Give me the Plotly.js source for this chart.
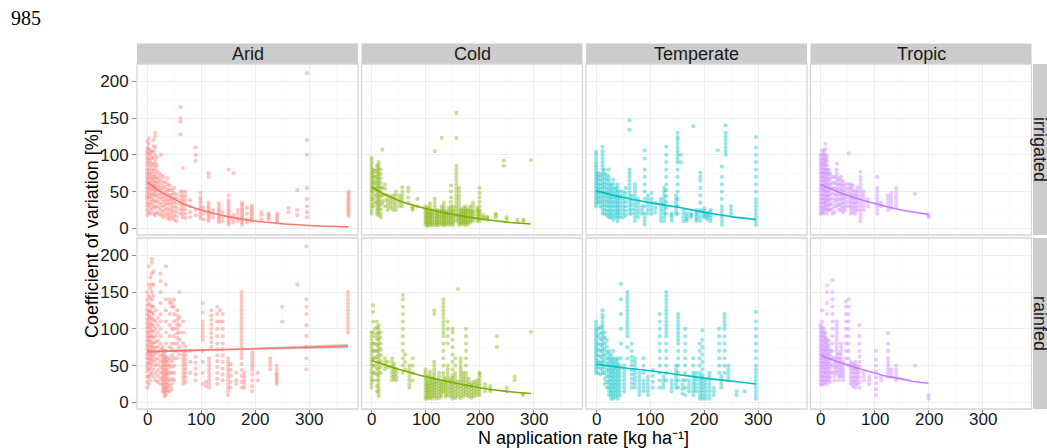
<!DOCTYPE html>
<html><head><meta charset="utf-8">
<script src="https://cdn.plot.ly/plotly-3.0.1.min.js"></script>
<style>html,body{margin:0;padding:0;background:#fff}#chart{width:1047px;height:448px}</style>
</head><body><div id="chart"></div>
<script>
// ---------------- DATA ----------------
const climates = ["Arid", "Cold", "Temperate", "Tropic"];
const systems = ["irrigated", "rainfed"];
const xTickVals = [0, 100, 200, 300];
const yTickVals = [0, 50, 100, 150, 200];
const xTitle = "N application rate [kg ha\u207B\u00B9]";
const yTitle = "Coefficient of variation [%]";
const pageNumber = "985";

// points: [N rate, [CV values ...]]
const aridIrrigatedPts = [
 [0,[18,25,30,35,40,45,50,55,60,65,70,75,80,85,90,95,100,105,110,118]],
 [3,[22,32,42,48,55,62,68,74,80,88,95,102,108,115,122]],
 [6,[20,28,36,44,52,58,64,70,76,84,92,100,106]],
 [9,[25,33,40,47,54,60,67,73,80,88,96,104]],
 [12,[20,30,38,46,52,58,64,70,78,86,95,105,112,120]],
 [15,[18,28,36,44,50,56,62,68,74,82,90,100,110,125,130]],
 [18,[22,30,38,45,52,58,64,70,78,86,96]],
 [22,[20,28,35,42,48,55,62,68,75]],
 [26,[18,25,32,40,46,52,58,65,72,100]],
 [30,[15,22,30,36,42,48,55,62,70]],
 [34,[18,25,32,38,44,50,56,63]],
 [38,[14,20,27,34,40,46,52,60,68]],
 [42,[12,18,25,32,38,45,52,58]],
 [46,[15,22,28,34,40,46,52]],
 [50,[12,18,24,30,36,42,48,55]],
 [55,[10,16,22,28,34,40,46]],
 [62,[20,26,32,38,44,50,128,145,150,165]],
 [66,[15,20,25,30,35,40,45,50,82]],
 [71,[14,20,26,32,38,44,50]],
 [80,[15,22,30,38]],
 [90,[18,25,92,100,110]],
 [99,[14,18,22,26,30,34,38,42,48]],
 [105,[12,20,28]],
 [114,[10,13,16,19,22,25,28,31,35,70,75]],
 [122,[15,20,25]],
 [133,[8,11,14,17,20,23,26,30,34]],
 [140,[10,15,22]],
 [151,[5,8,11,14,17,20,23,26,30,34,38,45,80]],
 [160,[8,12,18,75]],
 [168,[10,14,20,25]],
 [176,[5,8,11,14,17,20,23,26,29,32,35]],
 [185,[8,12,20,28]],
 [194,[10,13,16,19,22,25,28,31]],
 [212,[12,18,22]],
 [225,[12,15,18,20]],
 [241,[8,11,14,17,20]],
 [262,[22,28]],
 [278,[18,25,52]],
 [296,[15,22,30,40,55,100,120,211]],
 [373,[17,20,23,26,29,32,35,38,41,44,47,50]]
];
const aridRainfedPts = [
 [0,[20,28,35,42,48,54,60,66,72,78,84,90,96,102,108,114,120,126,132,140,150]],
 [3,[25,35,45,52,58,64,70,76,82,88,94,100,106,112,118,124,135,145,160,185]],
 [6,[30,38,46,54,60,66,72,78,84,90,96,102,108,116,124,132,142,155,170]],
 [9,[40,50,58,64,70,76,82,90,98,106,114,122,130,140,150,160,175,190,195]],
 [12,[35,45,55,62,68,74,80,88,96,104,112,120,130,145,160,178]],
 [16,[30,40,50,58,66,74,82,90,100,110,125]],
 [20,[28,36,44,52,60,68,76,84,95,105,115]],
 [25,[25,32,40,48,56,64,72,80,90,100,110,120,135,150,165,175]],
 [29,[15,20,25,30,35,40,45,50,55,60,65,70,75]],
 [32,[8,12,16,20,25,30,35,40,45,50,55,60,65,70]],
 [35,[10,15,20,26,32,38,44,50,56,62,70,80,95,110,125,140,160,185]],
 [38,[15,20,25,30,35,40,45,50,55,60]],
 [42,[15,22,30,40,50,60,75,90,105,120,135,140]],
 [46,[18,25,32,40,48,56,64,72,80,100,130,135]],
 [50,[30,40,50,60,70,80,90,100,110,120,130,140]],
 [56,[60,70,80,88,94,100,106,112,118,125]],
 [60,[65,75,85,95,105,115,150]],
 [67,[25,30,35,40,45,50,55,60,65,70,80,95,110]],
 [71,[28,34,40,46,52,58,64,70,76]],
 [80,[40,55,70]],
 [90,[30,38,46,54,62]],
 [103,[25,40,55,70,85,90,95,100,105,110,122,135]],
 [109,[22,28]],
 [115,[20,25,30,35,40,45,50,55,60]],
 [119,[75,82,88,94,100,106,112,118,125]],
 [130,[25,32,40,48,56,64,72,80,90,100,110,120,130]],
 [135,[110,125]],
 [140,[30,38,46,55,64,72,80,90,100,110,120]],
 [150,[10,15,20,25,30,35,40,45,50,55,60]],
 [155,[20,28,36,44,52]],
 [165,[25,30,40]],
 [175,[20,28,36,44,52,60,65,70,75,80,85,90,95,100,105,110,115,120,125,130,135,140,145,150]],
 [180,[20,25,30,35,40]],
 [195,[15,22,30,38,44,48,52,56,60,64,68]],
 [205,[30,40]],
 [228,[45,50,55,60]],
 [240,[25,28,31,34,37,40,45,50]],
 [250,[110,130]],
 [278,[160]],
 [295,[45,60,75,90,105,120,130,140,212]],
 [372,[95,100,105,110,115,120,125,130,135,140,145,150]]
];
const coldIrrigatedPts = [
 [0,[20,24,28,32,36,40,44,48,52,56,60,64,68,72,76,80,84,88,92,96]],
 [3,[30,40,50,55,60,65,70,75,80]],
 [6,[35,45,55,62,70,78]],
 [10,[20,25,30,35,40,45,50,55,60,65,70,75,80,85]],
 [13,[18,22,26,30,34,38,42,46,50,54,58,62,66,70,74,78,82,86,90]],
 [17,[15,20,26,32,38,44,50,56,62,68,74,80]],
 [20,[35,45,55,107]],
 [25,[30,38,46,54,60]],
 [30,[25,30,35,40,45]],
 [35,[28,33,38,43]],
 [40,[25,30,35,40,45]],
 [45,[25,30,35,40,45,50]],
 [52,[30,35,40,45]],
 [57,[30,35,40,45,50,56]],
 [68,[35,42,50,55]],
 [76,[25,28,30]],
 [85,[30,40]],
 [100,[5,8,11,14,17,20,23,26,30]],
 [104,[3,6,9,12,15,18,21,24,28]],
 [108,[5,8,11,14,17,20,23,26,30,34]],
 [112,[4,7,10,13,16,19,22,25]],
 [117,[5,9,13,17,21,25,30,35,40,105]],
 [121,[4,7,10,13,16,19,22,25]],
 [125,[5,8,11,14,17,20,24]],
 [130,[5,8,11,14,17,20,23,26,30,123]],
 [134,[4,7,10,13,16,19,22,26,30,35]],
 [138,[5,8,11,14,17,20,23]],
 [143,[5,8,11,14,17,20,24,28]],
 [147,[5,9,13,17,21,25,30,36,42,50,58]],
 [151,[5,8,11,14,17,20,23,26,30]],
 [157,[10,14,18,22,26,30,35,40,45,50,55,60,65,70,75,80,85,123,157]],
 [162,[5,8,11,14,17,20,25,30,35,40,45,50,55]],
 [166,[5,8,11,14,17,20,23,26]],
 [170,[6,9,12,15,18,21,24,28]],
 [174,[5,8,11,14,17,20,23,26,30]],
 [178,[5,8,11,14,17,20,23,26]],
 [183,[8,11,14,17,20,23,26,30]],
 [188,[10,13,16,19,22,25,30,35]],
 [196,[10,13,16,19,22,25,28]],
 [200,[10,13,16,19,22,25,30,36,42,48,55]],
 [207,[12,15,18]],
 [214,[12,14,16]],
 [230,[15,18,20]],
 [245,[85,92]],
 [250,[12,15]],
 [270,[8,12]],
 [281,[10,12]],
 [295,[93]]
];
const coldRainfedPts = [
 [0,[20,25,30,35,40,45,50,55,60,65,70,75,80,85,90,95]],
 [3,[30,40,50,60,70,80,95,110,123,132]],
 [6,[40,50,60,70,80,90,100]],
 [10,[15,22,30,38,46,54,62,70,78,86,94,102,110]],
 [13,[8,12,16,20,25,30,35,40,45,50,55,60,65,70,75,80,85,90,95,100,105]],
 [17,[40,48,56,64,72,80,88,95]],
 [25,[45,50,55,60]],
 [30,[48,55]],
 [38,[30,35,40,45,50,55,60]],
 [42,[32,37,42,47,52]],
 [46,[30,35,40,45]],
 [58,[40,50,60,70,80,90,100,110,120,130,140,146]],
 [62,[45,55,65]],
 [70,[20,25,30,35,40,45,50]],
 [76,[30,40,50,60]],
 [100,[5,9,13,17,21,25,29,33,37,41,45]],
 [104,[5,8,11,14,17,20,23,26,30,35]],
 [108,[6,10,14,18,22,26,30,34,38,42]],
 [112,[5,9,13,17,21,25,29,33]],
 [116,[8,12,16,20,24,28,32,36,40,45,50,55,120,125]],
 [120,[5,9,13,17,21,25,29]],
 [125,[6,10,14,18,22,26,30,35,40]],
 [129,[8,12,16,20,24,28]],
 [133,[15,20,25,30,35,40,50,60,70,80,90,95,100,105,110,115,120,125,130,135,140]],
 [137,[8,12,16,20,24,28,32]],
 [141,[10,15,20,25,30,35,40,45,50,80,90,100,110]],
 [146,[8,12,16,20,24,28,32]],
 [150,[5,9,13,17,21,25,29,33,37,45,55,65,75,85,95,100]],
 [155,[6,10,14,18,22,26,30,35,40,50,60]],
 [160,[8,12,16,20,24,28,154]],
 [165,[6,10,14,18,22,26,30,34,38,42,46,50,55,60]],
 [170,[8,12,16,20,24,28,32,36,40]],
 [175,[10,14,18,22,26,30,35,40,50,60,70,80,90,100]],
 [180,[8,12,16,20,24,28,32]],
 [185,[6,10,14,18,22,26]],
 [190,[8,12,16,20,24,28]],
 [195,[10,14,18,22,26,30]],
 [200,[10,14,18,22,26,30,34,38,40]],
 [210,[15,20,25]],
 [220,[15,18,22]],
 [232,[75,90]],
 [250,[15,20]],
 [265,[30,35]],
 [280,[10,12]],
 [295,[96]]
];
const temperateIrrigatedPts = [
 [0,[30,34,38,42,46,50,54,58,62,66,70,74,78,82,86,90,95,100,104]],
 [4,[35,40,45,50,55,60,65,70,75]],
 [8,[30,36,42,48,54,60,66,72]],
 [12,[20,25,30,35,40,45,50,55,60,65,70,75,80,85,90,95,100,105,111]],
 [16,[20,26,32,38,44,50,56,62,68,74,80]],
 [20,[18,24,30,36,42,48,54,60,66,72]],
 [24,[15,20,25,30,35,40,45,50,55,60,65,70,80]],
 [28,[15,20,25,30,35,40,45,50,55,60]],
 [32,[12,18,24,30,36,42,48,54,60,66]],
 [36,[15,20,25,30,35,40,45,50,55]],
 [40,[10,15,20,25,30,35,40,45,50,55,60]],
 [44,[15,20,25,30,35,40,45,50]],
 [50,[15,20,25,30,35,40,45,50]],
 [55,[18,24,30,36,42,48,55]],
 [62,[20,25,30,35,40,45,50,55,60,65,70,75,80,134,147]],
 [66,[20,26,32,38,44]],
 [72,[10,15,20,25,30,35,40,45,50,55,60]],
 [78,[15,20,25,30,35,40]],
 [85,[20,25,30]],
 [90,[5,10,15,20,30,40,50,60,70,80,95,106]],
 [96,[20,25,30,35,40,45]],
 [103,[20,25,30,35,40,48]],
 [110,[22,28,34]],
 [120,[10,15,20,25,30,35,40]],
 [126,[10,15,20,25,30,35,40,45,50,55]],
 [130,[20,28,36,44,52,60,70,80,90,100,111]],
 [140,[10,14,18,20]],
 [148,[20,25,30,35,40,45]],
 [151,[20,30,40,50,60,70,80,90,95,100,105,110,115,120,124,130]],
 [157,[90,100]],
 [162,[10,15,20,25]],
 [168,[10,13,16,20]],
 [176,[15,18,20]],
 [180,[139]],
 [186,[10,13,16,19,22,25]],
 [193,[10,15,20,25,35,45,55,65,70,76]],
 [200,[15,18,21,24,27]],
 [206,[12,15,18,21]],
 [212,[10,14,18,22,25]],
 [225,[106]],
 [233,[5,10,15,20,25,30,40,50,60,70,84]],
 [240,[100,105,110,115,120,125,130,140]],
 [250,[20,25,30]],
 [296,[5,10,15,20,25,30,35,40,50,60,70,80,90,100,110,124]]
];
const temperateRainfedPts = [
 [0,[40,44,48,52,56,60,64,68,72,76,80,84,88,92,96,100,105,110]],
 [4,[40,48,56,64,72,80,90,100]],
 [8,[38,46,54,62,70,78,86,94,102]],
 [12,[40,45,50,55,60,65,70,75,80,85,90,95,100,105,110,115,119,125]],
 [16,[25,32,40,48,56,64,72,80,88,95]],
 [20,[20,28,36,44,52,60,68,76,84]],
 [24,[10,15,20,25,30,35,40,45,50,55,60,65,70]],
 [28,[5,10,15,20,25,30,35,40,45,50,55,60,65]],
 [32,[5,10,15,20,25,30,35,40,45,50,55,60,70]],
 [36,[8,13,18,23,28,33,38,43,48,53,58]],
 [40,[5,10,15,20,25,30,35,40,45,50,55,60]],
 [44,[10,15,20,25,30,35,40,45,50]],
 [46,[60,80,100,120,140,161]],
 [52,[15,20,25,30,35,40,45,50]],
 [58,[60,75,90,95,100,105,110,115,120,125,130,135,140,145,150]],
 [66,[20,26,32,38,44,50,56,62,70,80]],
 [72,[20,25,30,35,40,45,50,55,60]],
 [80,[10,15,20,25,30,35,40]],
 [88,[15,20,25,30,40,50,60]],
 [96,[10,15,20,25,30,35]],
 [105,[20,28,36,44]],
 [118,[20,30,40,50,60,70,80,90,100,110,120]],
 [125,[20,25,30,35]],
 [130,[30,40,50,60,70,80,90,95,100,105,110,115,120,125,130,135,140,145,150]],
 [140,[15,20,25,30]],
 [148,[20,25,30,35,40,45,50]],
 [152,[20,30,40,50,60,70,80,85,90,95,100,105,110,115,120]],
 [160,[12,18,24,30]],
 [165,[10,20,30,40,50,60,70,80,90,100]],
 [172,[15,20,25,30]],
 [180,[10,15,20,25,30,35,40,50,60]],
 [185,[15,20,25,30,35,40]],
 [192,[5,10,15,20,25,30,35,40,50,60,70,80]],
 [197,[5,9,13,17,21,25,29,33,37,45,55,65,75,85,98]],
 [203,[5,10,15,20,25,30]],
 [210,[5,10,15,20,25,30,35,40]],
 [218,[10,15,20]],
 [228,[40,50,60,70,80,90,100]],
 [232,[20,25,30,35]],
 [238,[40,50,60,70,80,90,100,105,110,115,120]],
 [245,[30,35,40,45,50]],
 [260,[10,15]],
 [275,[15]],
 [296,[5,10,15,20,25,30,35,40,45,50,60,70,80,90,100,110,123]]
];
const tropicIrrigatedPts = [
 [0,[20,25,30,35,40,45,50,55,60,65,70,75,80,85,90,95,100]],
 [3,[22,28,34,40,46,52,58,64,70,76,82,88,94,100,106]],
 [6,[20,25,30,35,40,45,50,55,60,65,70,75,80,85,90,95,100,105]],
 [9,[25,30,35,40,45,50,55,60,65,70,75,80,85,90,95,100,108,115]],
 [12,[20,26,32,38,44,50,56,62,68,74,80,86,92,98]],
 [15,[25,30,35,40,45,50,55,60,65,70,75,80]],
 [18,[25,32,39,46,53,60,67,74]],
 [22,[20,27,34,41,48,55,62,70]],
 [26,[22,30,38,46,54,62,70]],
 [30,[30,35,40,45,50,55,60,65,70,75,80,88]],
 [34,[25,32,39,46,53,60,67]],
 [38,[25,30,35,40,45,50,55,60,65,70]],
 [42,[22,28,34,40,46,52,58,64]],
 [46,[25,30,35,40,45,50,55,60]],
 [52,[30,36,42,48,54,60,102]],
 [56,[20,25,30,35,40,45,50,55,60]],
 [60,[22,28,34,40,46,52,58]],
 [64,[20,25,30,35,40,45,50]],
 [68,[25,30,35,40,45,50,55]],
 [74,[10,15,20,25,30,35,40,45,50,55,60,65,70,77]],
 [80,[25,30,35,40,45,50]],
 [88,[30,35,40]],
 [105,[20,25,30,35,40,45,50,55,70]],
 [112,[30,35]],
 [125,[25,30,35,40,45]],
 [131,[28,33,38,43,48]],
 [140,[30,35,40,45,50,55]],
 [175,[47]],
 [200,[15,18]]
];
const tropicRainfedPts = [
 [0,[25,30,35,40,45,50,55,60,65,70,75,80,85,90,95,100,105]],
 [3,[24,30,36,42,48,54,60,66,72,78,84,90,96,102,110,125]],
 [6,[25,30,35,40,45,50,55,60,65,70,75,80,85,90,95,100]],
 [9,[28,34,40,46,52,58,64,70,76,82,88,94]],
 [12,[25,30,35,40,45,50,55,60,65,70,75,80,85,120,135,150,159]],
 [15,[30,36,42,48,54,60,66,72,78,84]],
 [18,[28,34,40,46,52,58,64,70]],
 [22,[40,50,60,70,80,90,100,110,120,130,140,150,166]],
 [26,[30,36,42,48,54,60]],
 [30,[40,45,50,55,60,65,70,75,80,85,90,95,100,105,110]],
 [34,[30,36,42,48,54,60,66]],
 [38,[35,40,45,50,55,60,65,70,75,80]],
 [42,[30,35,40,45,50,55]],
 [47,[60,70,80,90,100,110,120,130,137]],
 [52,[50,60,70,80,90,100,110,120,130,140]],
 [56,[25,30,35,40,45,50,55]],
 [60,[22,28,34,40,46,52]],
 [64,[20,25,30,35,40,45,50,55]],
 [68,[25,30,35,40,45,50]],
 [72,[20,27,34,41,48,55,62,70,80,90,105]],
 [80,[30,35,40]],
 [90,[25,30,35]],
 [103,[10,18,26,34,42,50,58,70]],
 [112,[30,35]],
 [125,[35,40,45,50,55,60,70,80,94]],
 [131,[35,40,45]],
 [140,[30,35,40,45,50]],
 [175,[50]],
 [200,[5,10]]
];

// fitted curves
const aridIrrigatedFitX = [0,25,50,75,100,150,200,250,300,373];
const aridIrrigatedFitY = [63,50,40,31,25,16,10,6.3,4,2];
const aridRainfedFitX = [0,50,100,150,200,250,300,372];
const aridRainfedFitY = [69,70,71,72,73,74,75,76.5];
const aridRainfedLow  = [67.5,69,70.3,71,71.6,72.1,72.6,73.3];
const aridRainfedHigh = [70.5,71,71.7,73,74.4,75.9,77.4,79.7];
const coldIrrigatedFitX = [0,25,50,75,100,150,200,250,295];
const coldIrrigatedFitY = [56,46,38,32,27,19,13,8.5,6];
const coldRainfedFitX = [0,25,50,75,100,150,200,250,295];
const coldRainfedFitY = [57,51,45,40,35,27,20,15,12];
const temperateIrrigatedFitX = [0,50,100,150,200,250,296];
const temperateIrrigatedFitY = [51,42,35,29,22,16,12];
const temperateRainfedFitX = [0,50,100,150,200,250,296];
const temperateRainfedFitY = [52,47,43,38,33,29,25];
const tropicIrrigatedFitX = [0,25,50,75,100,125,150,175,200];
const tropicIrrigatedFitY = [60,52,45,39,34,29,25,22,19];
const tropicRainfedFitX = [0,25,50,75,100,125,150,175,200];
const tropicRainfedFitY = [64,57,51,45,40,35,32,28,26];

// ---------------- STYLE ----------------
const climateColors = {Arid:"#F8766D", Cold:"#7CAE00", Temperate:"#00BFC4", Tropic:"#C77CFF"};
const W = 1047, H = 448;
const colPx = [[137,358],[361.5,582.5],[586,807],[810.5,1031.5]];
const rowPx = [[64,235],[238,409]];
const stripTop = 43.5, stripRight = [1033, 1054];
const xRange = [-18.6, 390.6], yRange = [-9, 223.5];
const FONT = "Liberation Sans, Arial, Helvetica, sans-serif";
const xTickLabelY = 419;

const panels = [
 {c:0,r:0,pts:aridIrrigatedPts,fx:aridIrrigatedFitX,fy:aridIrrigatedFitY},
 {c:1,r:0,pts:coldIrrigatedPts,fx:coldIrrigatedFitX,fy:coldIrrigatedFitY},
 {c:2,r:0,pts:temperateIrrigatedPts,fx:temperateIrrigatedFitX,fy:temperateIrrigatedFitY},
 {c:3,r:0,pts:tropicIrrigatedPts,fx:tropicIrrigatedFitX,fy:tropicIrrigatedFitY},
 {c:0,r:1,pts:aridRainfedPts,fx:aridRainfedFitX,fy:aridRainfedFitY,lo:aridRainfedLow,hi:aridRainfedHigh},
 {c:1,r:1,pts:coldRainfedPts,fx:coldRainfedFitX,fy:coldRainfedFitY},
 {c:2,r:1,pts:temperateRainfedPts,fx:temperateRainfedFitX,fy:temperateRainfedFitY},
 {c:3,r:1,pts:tropicRainfedPts,fx:tropicRainfedFitX,fy:tropicRainfedFitY}
];

const fx = px => px / W;
const fy = py => 1 - py / H;
const traces = [];
const layout = {
  width: W, height: H, margin: {l:0, r:0, t:0, b:0},
  paper_bgcolor: "#fff", plot_bgcolor: "#fff", showlegend: false,
  font: {family: FONT, size: 17, color: "#1a1a1a"},
  shapes: [], annotations: []
};

panels.forEach(p => {
  const idx = p.r * 4 + p.c + 1;
  const sfx = idx === 1 ? "" : String(idx);
  const col = climateColors[climates[p.c]];
  const xs = [], ys = [];
  p.pts.forEach(([x, arr]) => arr.forEach(v => { xs.push(x); ys.push(v); }));
  traces.push({type:"scatter", mode:"markers", x:xs, y:ys, xaxis:"x"+sfx, yaxis:"y"+sfx,
    marker:{size:4.2, color:col, opacity:0.4, line:{width:0}}, hoverinfo:"skip"});
  if (p.lo) {
    traces.push({type:"scatter", mode:"lines", x:p.fx, y:p.lo, xaxis:"x"+sfx, yaxis:"y"+sfx,
      line:{width:0, color:"rgba(0,0,0,0)"}, hoverinfo:"skip"});
    traces.push({type:"scatter", mode:"lines", x:p.fx, y:p.hi, xaxis:"x"+sfx, yaxis:"y"+sfx,
      fill:"tonexty", fillcolor:"rgba(150,150,150,0.45)", line:{width:0, color:"rgba(0,0,0,0)"}, hoverinfo:"skip"});
  }
  traces.push({type:"scatter", mode:"lines", x:p.fx, y:p.fy, xaxis:"x"+sfx, yaxis:"y"+sfx,
    line:{width:1.6, color:col, shape:"spline"}, hoverinfo:"skip"});

  const [x0, x1] = colPx[p.c], [y0, y1] = rowPx[p.r];
  layout["xaxis"+sfx] = {
    domain:[fx(x0), fx(x1)], range:xRange, anchor:"y"+sfx,
    tickvals:xTickVals, showticklabels:false,
    ticks: p.r === 1 ? "outside" : "", ticklen:4, tickcolor:"#8c8c8c", tickwidth:1,
    showgrid:true, gridcolor:"#ececec", gridwidth:0.9, zeroline:false, showline:false,
    minor:{tickvals:[50,150,250,350], showgrid:true, gridcolor:"#f6f6f6", gridwidth:0.6, ticks:""},
    fixedrange:true
  };
  layout["yaxis"+sfx] = {
    domain:[fy(y1), fy(y0)], range:yRange, anchor:"x"+sfx,
    tickvals:yTickVals, ticktext:yTickVals.map(String),
    showticklabels: p.c === 0, ticks: p.c === 0 ? "outside" : "", ticklen:4, tickcolor:"#8c8c8c", tickwidth:1,
    showgrid:true, gridcolor:"#ececec", gridwidth:0.9, zeroline:false, showline:false,
    minor:{tickvals:[25,75,125,175], showgrid:true, gridcolor:"#f6f6f6", gridwidth:0.6, ticks:""},
    tickfont:{family:FONT, size:17, color:"#1a1a1a"}, fixedrange:true
  };
  layout.shapes.push({type:"rect", xref:"paper", yref:"paper", x0:fx(x0), x1:fx(x1), y0:fy(y1), y1:fy(y0),
    line:{color:"#d4d4d4", width:1.3}, fillcolor:"rgba(0,0,0,0)", layer:"above"});
  if (p.r === 1) {
    xTickVals.forEach(v => layout.annotations.push({xref:"x"+sfx, yref:"paper", x:v, y:fy(xTickLabelY),
      text:String(v), showarrow:false, xanchor:"center", yanchor:"middle",
      font:{family:FONT, size:17, color:"#1a1a1a"}}));
  }
});

// top strips
climates.forEach((name, c) => {
  const [x0, x1] = colPx[c];
  layout.shapes.push({type:"rect", xref:"paper", yref:"paper", x0:fx(x0), x1:fx(x1), y0:fy(rowPx[0][0]), y1:fy(stripTop),
    line:{width:0}, fillcolor:"#cccccc", layer:"below"});
  layout.annotations.push({xref:"paper", yref:"paper", x:fx((x0+x1)/2), y:fy((stripTop+rowPx[0][0])/2 + 0.5),
    text:name, showarrow:false, xanchor:"center", yanchor:"middle", font:{family:FONT, size:18, color:"#1a1a1a"}});
});
// right strips
systems.forEach((name, r) => {
  const [y0, y1] = rowPx[r];
  layout.shapes.push({type:"rect", xref:"paper", yref:"paper", x0:fx(stripRight[0]), x1:fx(stripRight[1]), y0:fy(y1), y1:fy(y0),
    line:{width:0}, fillcolor:"#cccccc", layer:"below"});
  layout.annotations.push({xref:"paper", yref:"paper", x:fx(1040.5), y:fy((y0+y1)/2),
    text:name, textangle:90, showarrow:false, xanchor:"center", yanchor:"middle", font:{family:FONT, size:18, color:"#1a1a1a"}});
});
// axis titles
layout.annotations.push({xref:"paper", yref:"paper", x:fx(583), y:fy(437.5),
  text:xTitle, showarrow:false, xanchor:"center", yanchor:"middle", font:{family:FONT, size:18, color:"#000"}});
layout.annotations.push({xref:"paper", yref:"paper", x:fx(92), y:fy(234),
  text:yTitle, textangle:-90, showarrow:false, xanchor:"center", yanchor:"middle", font:{family:FONT, size:18, color:"#000"}});
// page number
layout.annotations.push({xref:"paper", yref:"paper", x:fx(9), y:fy(18),
  text:pageNumber, showarrow:false, xanchor:"left", yanchor:"middle", font:{family:"Liberation Serif, Times New Roman, serif", size:20, color:"#000"}});

Plotly.newPlot("chart", traces, layout, {staticPlot:true, displayModeBar:false});
</script>
</body></html>
